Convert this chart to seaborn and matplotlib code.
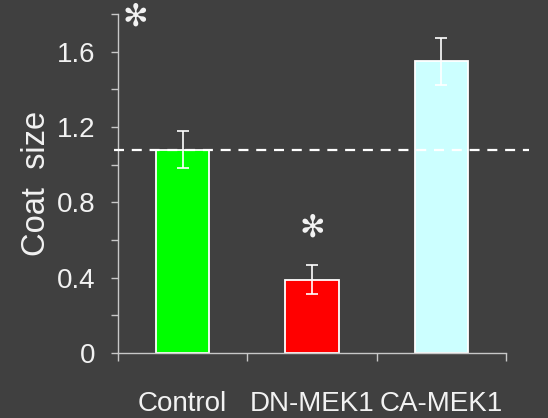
import matplotlib
matplotlib.use("Agg")
import matplotlib.pyplot as plt
import seaborn as sns
import pandas as pd

# Coat size per condition (mean and error)
categories = ["Control", "DN-MEK1", "CA-MEK1"]
means = [1.08, 0.39, 1.55]
errors = [0.10, 0.075, 0.125]
colors = ["#00ff00", "#ff0000", "#ccffff"]
baseline = 1.08
y_ticks = [0, 0.4, 0.8, 1.2, 1.6]
y_ticklabels = ["0", "0.4", "0.8", "1.2", "1.6"]
y_minor = [0.2, 0.6, 1.0, 1.4, 1.8]

bg = "#404040"
fg = "#f2f2f2"
axis_col = "#c8c8c8"

sns.set_style("dark")
plt.rcParams["font.family"] = ["Liberation Sans", "DejaVu Sans"]

df = pd.DataFrame({"condition": categories, "size": means})

fig = plt.figure(figsize=(5.48, 4.18), dpi=100, facecolor=bg)
ax = fig.add_axes([0.2153, 0.1555, 0.7081, 0.811])
ax.set_facecolor(bg)

sns.barplot(data=df, x="condition", y="size", hue="condition",
            palette=colors, saturation=1, legend=False, errorbar=None,
            width=0.41, edgecolor="white", linewidth=1.3, ax=ax)
ax.errorbar(range(len(categories)), means, yerr=errors, fmt="none",
            ecolor="white", elinewidth=1.2, capsize=4, capthick=1.2)

# reference line at control level
ax.plot([-0.53, 2.68], [baseline, baseline], color="white", lw=1.6,
        dashes=(4.5, 3.5), clip_on=False, zorder=5)

ax.set_xlim(-0.5, 2.5)
ax.set_ylim(0, 1.8)

# y ticks
ax.set_yticks(y_ticks)
ax.set_yticklabels(y_ticklabels)
ax.set_yticks(y_minor, minor=True)
ax.tick_params(axis="y", which="both", direction="out", length=5,
               width=1, color=axis_col, left=True, labelsize=20,
               labelcolor=fg, pad=11)

# x ticks: marks at category boundaries, labels centred on bars
ax.set_xticks([-0.5, 0.5, 1.5, 2.5])
ax.set_xticklabels([])
ax.set_xticks([0, 1, 2], minor=True)
ax.set_xticklabels(categories, minor=True)
ax.tick_params(axis="x", which="major", direction="out", length=6,
               width=1, color=axis_col, bottom=True)
ax.tick_params(axis="x", which="minor", length=0, labelsize=20,
               labelcolor=fg, pad=27)

ax.set_xlabel("")
ax.set_ylabel("Coat  size", fontsize=23.5, color=fg, labelpad=4)
ax.grid(False)

for side in ["top", "right"]:
    ax.spines[side].set_visible(False)
for side in ["left", "bottom"]:
    ax.spines[side].set_visible(True)
    ax.spines[side].set_color(axis_col)
    ax.spines[side].set_linewidth(1)

# significance marks
ax.text(-0.37, 1.785, "✻", family="DejaVu Sans", fontsize=22,
        color=fg, ha="center", va="center", clip_on=False)
ax.text(1.0, 0.665, "✻", family="DejaVu Sans", fontsize=22,
        color=fg, ha="center", va="center")

fig.savefig("out.png", dpi=100, facecolor=bg)
